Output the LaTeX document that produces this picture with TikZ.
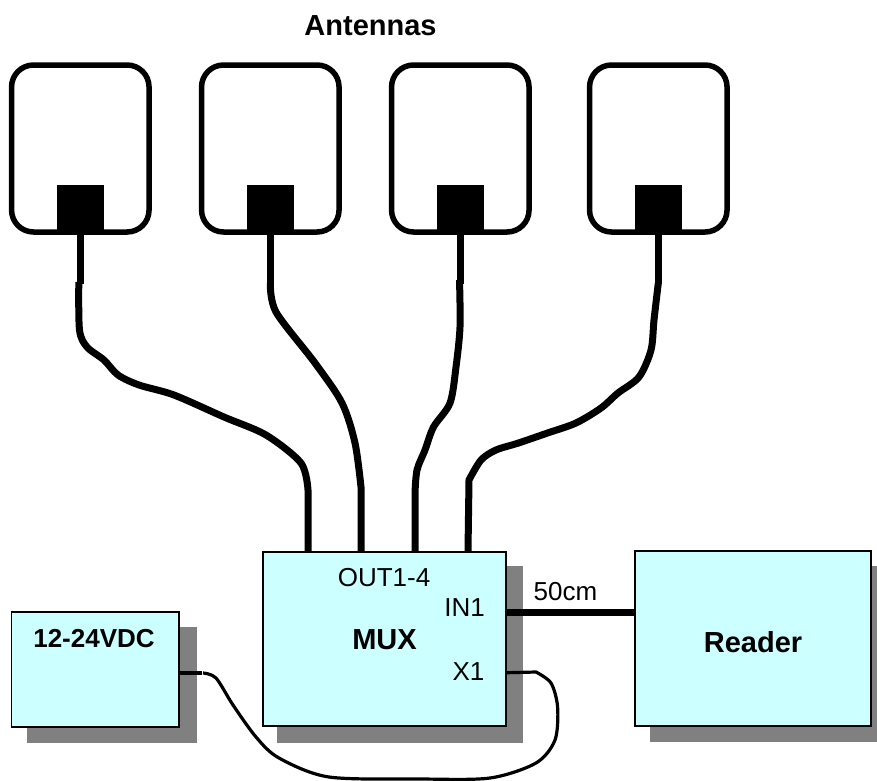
\documentclass[tikz,border=0pt]{standalone}
\usepackage{fontspec}
\setmainfont{Liberation Sans}
\usetikzlibrary{calc}
\definecolor{boxfill}{HTML}{CCFFFF}
\definecolor{boxshade}{HTML}{808080}
\tikzset{
    patch/.style={draw, line width=5.5pt, rounded corners=22pt, inner sep=0, minimum width=137.5pt, minimum height=167pt},
    feed/.style={fill=black, inner sep=0, minimum width=47.5pt, minimum height=47.5pt},
    unit/.style={draw, line width=1.8pt, fill=boxfill, inner sep=0},
    shade/.style={fill=boxshade},
    cable/.style={line width=7pt},
    thincable/.style={line width=3.2pt, line join=round},
    bigtext/.style={inner sep=0, font=\fontsize{29}{32}\selectfont\bfseries},
    midtext/.style={inner sep=0, font=\fontsize{26}{30}\selectfont\bfseries},
    smalltext/.style={inner sep=0, font=\fontsize{26}{30}\selectfont}
}

\begin{document}
\begin{tikzpicture}[x=1pt, y=-1pt]
        \useasboundingbox (0,0) rectangle (877,780);

        % shadows
        \fill[shade] (27,627) rectangle (197,743);
        \fill[shade] (277,566) rectangle (523,743);
        \fill[shade] (650,566) rectangle (886,742);

        % units
        \node[unit, minimum width=167.5pt, minimum height=114.5pt] (psu) at (95.25,669.5) {};
        \node[unit, minimum width=243pt, minimum height=174.5pt] (mux) at (384.5,639) {};
        \node[unit, minimum width=236pt, minimum height=175pt] (reader) at (753,638.5) {};

        % antennas
        \foreach \name/\x in {A/80.3, B/270.3, C/460.3, D/658.3} {
            \node[patch] (patch\name) at (\x,148.5) {};
            \node[feed] (feed\name) at (\x,208.5) {};
        }

        % ports on the mux
        \coordinate (outA) at (308,551);
        \coordinate (outB) at (361,551);
        \coordinate (outC) at (415,551);
        \coordinate (outD) at (468,551);
        \coordinate (psuout) at (psu.east |- 0,673);
        \coordinate (muxx) at (mux.east |- 0,672.7);
        \coordinate (muxin) at (mux.east |- 0,612.5);

        % antenna cables
        \draw[cable] (feedA.south) -- (80.3,284);
        \draw[cable] plot[smooth] coordinates {(78.8,282) (79.5,330) (87,347) (104,360) (118,375) (139,385) (174,395) (224,417) (266,435) (301,463) (308,490)} -- (outA);
        \draw[cable] (feedB.south) -- (270.3,283);
        \draw[cable] plot[smooth] coordinates {(270.3,283) (276,312) (315,363) (342,403) (355,443) (361,487)} -- (outB);
        \draw[cable] (feedC.south) -- (460.3,284);
        \draw[cable] plot[smooth] coordinates {(459.5,280) (460,327) (456,367) (450,403) (433.5,427) (425,450) (417,470) (415,493)} -- (outC);
        \draw[cable] (feedD.south) -- (658.3,284);
        \draw[cable] plot[smooth] coordinates {(658.3,283) (654,320) (651,350) (639,377) (618,393) (601,408) (576,423) (547.5,433) (518.5,443) (496,450) (481,460) (469,480)} -- (outD);

        % reader cable
        \draw[cable] (muxin) -- (reader.west |- muxin);

        % supply cable
        \draw[line width=4.5pt] (psuout) -- (202,673);
        \draw[thincable] plot[smooth] coordinates {(203,673) (216,678) (233,705) (256,737) (279,758) (329,777) (421,779) (490,778) (536,763) (555,740) (557.6,707) (551,683) (536,672)} -- (muxx);

        % labels
        \node[bigtext] (title) at (370.5,25.5) {Antennas};
        \node[smalltext] (outlabel) at (384,578) {OUT1-4};
        \node[smalltext] (inlabel) at (464.5,608) {IN1};
        \node[smalltext] (xlabel) at (468.5,672) {X1};
        \node[bigtext] (muxlabel) at (384.5,640) {MUX};
        \node[midtext] (psulabel) at (94,639) {12-24VDC};
        \node[bigtext] (readerlabel) at (753,642) {Reader};
        \node[smalltext] (lenlabel) at (565.5,592) {50cm};
    \end{tikzpicture}
\end{document}
